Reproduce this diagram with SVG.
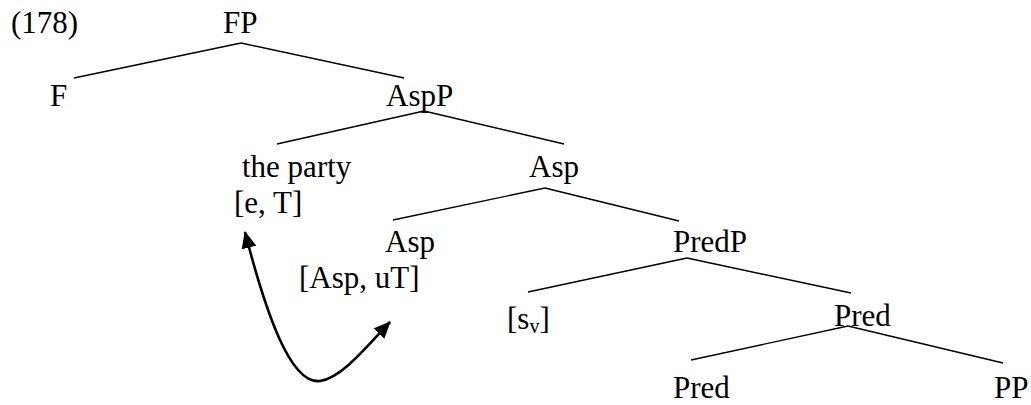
<svg xmlns="http://www.w3.org/2000/svg" width="1031" height="405" viewBox="0 0 1031 405">
<style>
text{font-family:"Liberation Serif","Times New Roman",serif;font-size:31px;fill:#000}
.e{stroke:#000;stroke-width:1.4;fill:none}
.mv{stroke:#000;stroke-width:2.6;fill:none}
</style>
<defs>
<marker id="ah" markerUnits="userSpaceOnUse" viewBox="0 0 17 15" markerWidth="17" markerHeight="15" refX="16" refY="7.5" orient="auto-start-reverse">
<path d="M0,0 L17,7.5 L0,15 z" fill="#000"/>
</marker>
</defs>
<rect width="1031" height="405" fill="#fff"/>
<text id="ex" x="11" y="33">(178)</text>
<g id="connectors">
<line class="e" x1="241" y1="43" x2="74" y2="78"/>
<line class="e" x1="241" y1="43" x2="404" y2="78"/>
<line class="e" x1="424" y1="111" x2="277" y2="144"/>
<line class="e" x1="424" y1="111" x2="564" y2="144"/>
<line class="e" x1="545" y1="188" x2="393" y2="220"/>
<line class="e" x1="545" y1="188" x2="679" y2="221"/>
<line class="e" x1="687" y1="258" x2="528" y2="292"/>
<line class="e" x1="687" y1="258" x2="851" y2="293"/>
<line class="e" x1="848" y1="326" x2="691" y2="360"/>
<line class="e" x1="848" y1="326" x2="1003" y2="363"/>
<path class="mv" d="M245,232 C265,310 290,385 320,381 C342,378 368,345 390,322" marker-start="url(#ah)" marker-end="url(#ah)"/>
</g>
<g id="n-FP"><text x="223" y="33">FP</text></g>
<g id="n-F"><text x="50" y="106">F</text></g>
<g id="n-AspP"><text x="386" y="106">AspP</text></g>
<g id="n-party"><text x="242" y="177">the party</text><text x="234" y="213">[e, T]</text></g>
<g id="n-Asp1"><text x="529" y="177">Asp</text></g>
<g id="n-Asp2"><text x="385" y="252">Asp</text><text x="299" y="288">[Asp, uT]</text></g>
<g id="n-PredP"><text x="673" y="252">PredP</text></g>
<g id="n-sv"><text x="507" y="329">[s<tspan font-size="20" dy="4">v</tspan><tspan dy="-4">]</tspan></text></g>
<g id="n-Pred1"><text x="834" y="326">Pred</text></g>
<g id="n-Pred2"><text x="673" y="398">Pred</text></g>
<g id="n-PP"><text x="994" y="398">PP</text></g>
</svg>
